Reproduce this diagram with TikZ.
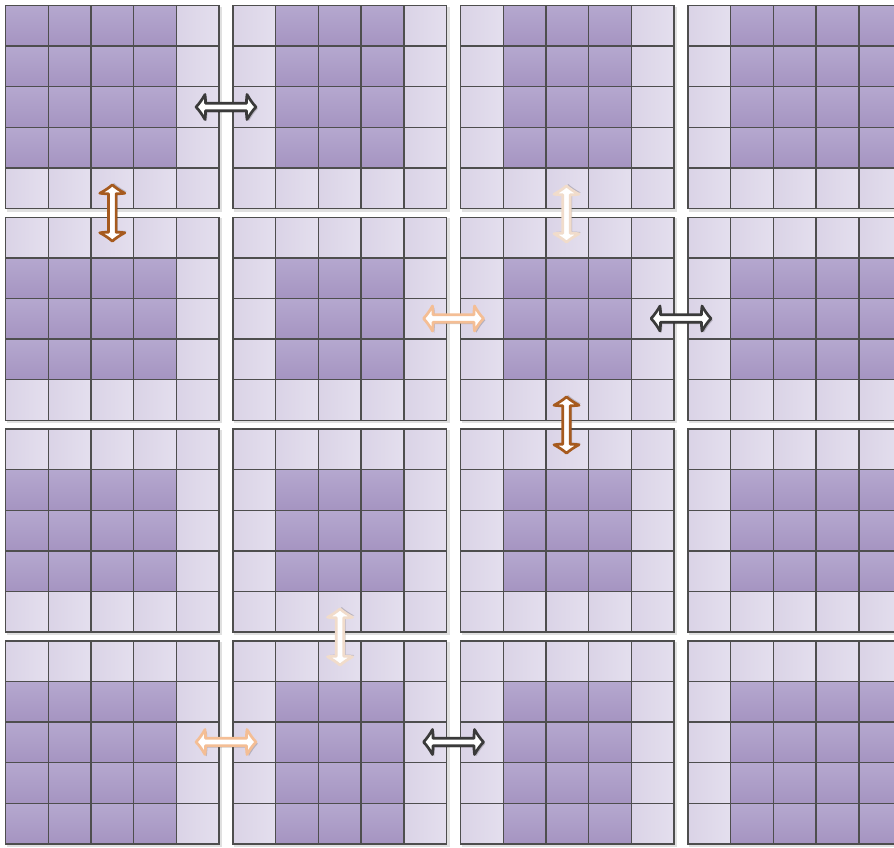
\documentclass[tikz,border=0pt]{standalone}
\definecolor{gridline}{HTML}{4E4E4E}
\definecolor{darktop}{HTML}{B5A8CF}
\definecolor{darkbot}{HTML}{A594C1}
\definecolor{lightL}{HTML}{DAD3E6}
\definecolor{lightR}{HTML}{E4DFEE}
\definecolor{arrgray}{HTML}{3A3A3A}
\definecolor{arrbrown}{HTML}{A65A1E}
\definecolor{arrpeach}{HTML}{F4BE95}
\definecolor{arrpale}{HTML}{F1DCCB}
\newcommand{\dblarrowpath}{(30,0) .. controls (27,-3) and (23.5,-8) .. (21,-12.5) .. controls (20.5,-9) and (20.5,-6) .. (20.5,-3.8) -- (-20.5,-3.8) .. controls (-20.5,-6) and (-20.5,-9) .. (-21,-12.5) .. controls (-23.5,-8) and (-27,-3) .. (-30,0) .. controls (-27,3) and (-23.5,8) .. (-21,12.5) .. controls (-20.5,9) and (-20.5,6) .. (-20.5,3.8) -- (20.5,3.8) .. controls (20.5,6) and (20.5,9) .. (21,12.5) .. controls (23.5,8) and (27,3) .. (30,0) -- cycle}
\tikzset{
  dblarrow/.pic={
    \fill[black, opacity=0.18, shift={(1.8,1.8)}] \dblarrowpath;
    \path[pic actions] \dblarrowpath;
  },
  arrowstyle/.style={draw=#1, fill=white, line width=2.7pt, line join=round},
  cellline/.style={draw=gridline, line width=1.4pt, line cap=rect},
}
\begin{document}
\begin{tikzpicture}[x=1pt,y=-1pt]
\useasboundingbox (0,0) rectangle (894,847);
\fill[white] (0,0) rectangle (894,847);
\def\cw{42.7}
\def\ch{40.6}
\foreach \i in {0,...,3} {
  \foreach \j in {0,...,3} {
    \pgfmathsetmacro\xo{5.5+227.5*\j}
    \pgfmathsetmacro\yo{5.5+211.8*\i}
    \pgfmathtruncatemacro\clo{\j==0 ? 0 : 1}
    \pgfmathtruncatemacro\chi{\j==3 ? 4 : 3}
    \pgfmathtruncatemacro\rlo{\i==0 ? 0 : 1}
    \pgfmathtruncatemacro\rhi{\i==3 ? 4 : 3}
    \fill[black, opacity=0.12] (\xo+1,\yo+1) rectangle ++(215.5,205);
    \foreach \c in {0,...,4} {
      \foreach \r in {0,...,4} {
        \pgfmathtruncatemacro\isdark{(\c>=\clo) && (\c<=\chi) && (\r>=\rlo) && (\r<=\rhi) ? 1 : 0}
        \ifnum\isdark=1
          \shade[top color=darktop, bottom color=darkbot] (\xo+\c*\cw,\yo+\r*\ch) rectangle ++(\cw,\ch);
        \else
          \shade[left color=lightL, right color=lightR] (\xo+\c*\cw,\yo+\r*\ch) rectangle ++(\cw,\ch);
        \fi
      }
    }
    \foreach \k in {0,...,5} {
      \draw[cellline] (\xo+\k*\cw,\yo) -- (\xo+\k*\cw,\yo+5*\ch);
      \draw[cellline] (\xo,\yo+\k*\ch) -- (\xo+5*\cw,\yo+\k*\ch);
    }
  }
}
% arrows
\pic[arrowstyle=arrgray] at (226,107) {dblarrow};
\pic[arrowstyle=arrbrown, rotate=90, xscale=0.94] at (112.3,213) {dblarrow};
\pic[arrowstyle=arrpale, rotate=90, xscale=0.94] at (566.5,214) {dblarrow};
\pic[arrowstyle=arrpeach] at (453.5,318.5) {dblarrow};
\pic[arrowstyle=arrgray] at (681,318.5) {dblarrow};
\pic[arrowstyle=arrbrown, rotate=90, xscale=0.94] at (566.5,425) {dblarrow};
\pic[arrowstyle=arrpale, rotate=90, xscale=0.94] at (340,637) {dblarrow};
\pic[arrowstyle=arrpeach] at (226,742) {dblarrow};
\pic[arrowstyle=arrgray] at (453.5,742) {dblarrow};
\end{tikzpicture}
\end{document}
